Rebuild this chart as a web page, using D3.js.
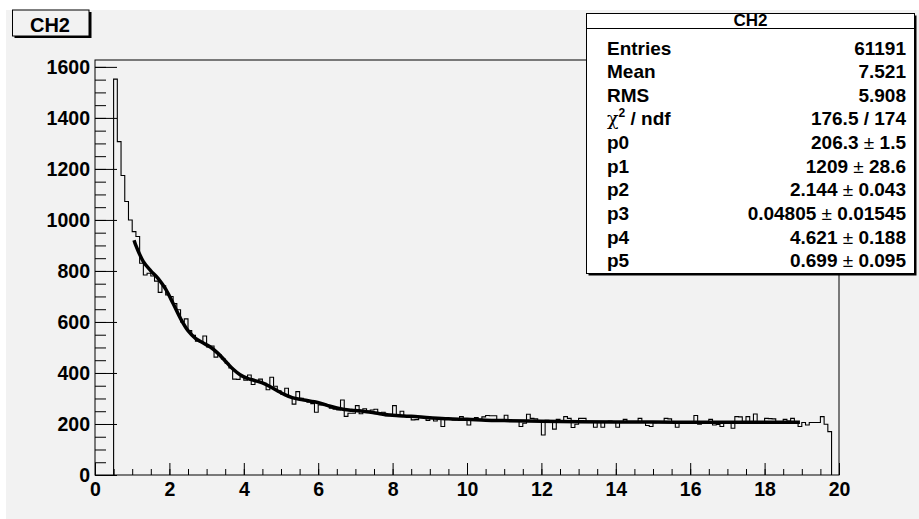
<!DOCTYPE html>
<html><head><meta charset="utf-8">
<script src="https://cdn.jsdelivr.net/npm/d3@7"></script>
<style>
body{margin:0;background:#fff}
svg{display:block}
text{font-family:"Liberation Sans",Arial,Helvetica,sans-serif;font-weight:bold;fill:#000}
</style>
</head><body>
<script>
// ---- data ----
const binStart = 0.5, binWidth = 0.1;
const counts = [
1552,1307,1174,1072,1000,954,935,830,784,791,
780,760,716,742,706,700,672,648,600,612,
566,548,525,522,545,502,506,462,470,455,
438,420,376,375,385,372,392,355,366,376,
360,334,383,348,330,316,340,305,278,327,
301,292,285,280,246,275,280,272,262,258,
255,294,230,242,242,272,240,260,250,255,
258,244,246,232,238,272,236,250,232,226,
216,217,228,228,214,224,212,222,190,220,
218,216,220,229,218,196,216,225,214,228,
233,232,232,214,212,234,216,212,210,190,
203,238,222,220,212,157,214,210,180,218,
212,229,222,186,199,222,222,210,208,187,
210,187,210,212,208,187,210,218,208,210,
206,222,208,194,190,205,208,210,222,220,
206,187,208,210,206,208,233,199,210,206,
218,196,198,190,208,206,183,229,228,208,
229,206,239,208,210,222,221,220,210,206,
218,212,222,208,190,206,196,206,206,206,
229,199,170];
const fitX = [1.05,1.1,1.3,1.5,1.7,1.9,2.1,2.3,2.5,2.7,2.9,3.1,3.3,3.5,3.7,3.9,4.1,4.3,4.5,4.7,4.9,5.1,5.3,5.5,5.7,5.9,6.1,6.3,6.5,6.7,6.9,7.1,7.3,7.5,7.7,7.9,8.1,8.3,8.5,9,9.5,10,10.5,11,12,13,14,15,16,17,18,18.95];
const fitY = [920.7,899.5,836.6,800.4,770.3,728.5,672.4,613.3,565.8,535.9,518.3,501.6,477.8,447.1,416.4,393.1,378.9,370.2,360.8,347.2,330.6,314.8,303.5,296.8,292.3,287.0,279.4,270.4,262.4,256.9,253.8,251.5,248.4,244.1,239.4,235.4,232.8,231.2,230.0,224.6,220.1,218.2,215.1,213.4,210.8,209.1,208.1,207.4,207.0,206.7,206.6,206.5];
const xTicks = [0,2,4,6,8,10,12,14,16,18,20];
const yTicks = [0,200,400,600,800,1000,1200,1400,1600];
const histTitle = "CH2";
const statLabels = ["Entries","Mean","RMS","chi2","p0","p1","p2","p3","p4","p5"];
const statValues = ["61191","7.521","5.908","176.5 / 174","206.3|1.5","1209|28.6","2.144|0.043","0.04805|0.01545","4.621|0.188","0.699|0.095"];

// ---- layout ----
const W = 919, H = 519;
const svg = d3.select("body").append("svg").attr("width", W).attr("height", H);
svg.append("rect").attr("width", W).attr("height", H).attr("fill", "#fff");
svg.append("rect").attr("x", 6).attr("y", 10).attr("width", W - 6).attr("height", H - 10).attr("fill", "#f2f2f2");

const x = d3.scaleLinear().domain([0, 20]).range([95, 839]);
const y = d3.scaleLinear().domain([0, 1627]).range([475, 60]);

// axes
const fs = 19.5;
const xMinor = svg.append("g").attr("transform", "translate(0,475)")
  .call(d3.axisBottom(x).tickValues(d3.range(0, 20.01, 0.5)).tickSize(-6).tickFormat(""));
const xMajor = svg.append("g").attr("transform", "translate(0,475)")
  .call(d3.axisBottom(x).tickValues(xTicks).tickSize(-12).tickPadding(7).tickFormat(d3.format("d")));
const yMinor = svg.append("g").attr("transform", "translate(95,0)")
  .call(d3.axisLeft(y).tickValues(d3.range(0, 1601, 50)).tickSize(-11).tickFormat(""));
const yMajor = svg.append("g").attr("transform", "translate(95,0)")
  .call(d3.axisLeft(y).tickValues(yTicks).tickSize(-22).tickPadding(5).tickFormat(d3.format("d")));
[xMinor, xMajor, yMinor, yMajor].forEach(g => {
  g.select(".domain").remove();
  g.selectAll("line").attr("stroke", "#000").attr("stroke-width", 1);
  g.selectAll("text").attr("font-size", fs).attr("font-family", "Liberation Sans, Arial, sans-serif").attr("font-weight", "bold").attr("fill", "#000");
});
xMajor.selectAll("text").attr("dy", "0.72em");

// histogram
const pts = [[binStart, 0]];
counts.forEach((c, i) => pts.push([binStart + i * binWidth, c]));
const xEnd = binStart + counts.length * binWidth;
pts.push([xEnd, counts[counts.length - 1]]);
pts.push([xEnd, 0]);
svg.append("path")
  .attr("d", d3.line().x(d => x(d[0])).y(d => y(d[1])).curve(d3.curveStepAfter)(pts))
  .attr("fill", "none").attr("stroke", "#000").attr("stroke-width", 1.1);

// fit curve
svg.append("path")
  .attr("d", d3.line().x((d, i) => x(fitX[i])).y(d => y(d)).curve(d3.curveCatmullRom)(fitY))
  .attr("fill", "none").attr("stroke", "#000").attr("stroke-width", 3.5).attr("stroke-linejoin", "round");

// frame
svg.append("rect").attr("x", 95).attr("y", 60).attr("width", 744).attr("height", 415)
  .attr("fill", "none").attr("stroke", "#000").attr("stroke-width", 1);

// title box
svg.append("rect").attr("x", 14.5).attr("y", 12).attr("width", 77).attr("height", 26).attr("fill", "#000");
svg.append("rect").attr("x", 12.5).attr("y", 10).attr("width", 76.5).attr("height", 26).attr("fill", "#f2f2f2").attr("stroke", "#000").attr("stroke-width", 1);
svg.append("text").attr("x", 50).attr("y", 31.5).attr("text-anchor", "middle").attr("font-size", 20).text(histTitle);

// stat box
const bx = 586.5, by = 13.5, bw = 328, bh = 260;
svg.append("rect").attr("x", bx + 2).attr("y", by + 2).attr("width", bw).attr("height", bh).attr("fill", "#000");
svg.append("rect").attr("x", bx).attr("y", by).attr("width", bw).attr("height", bh).attr("fill", "#fff").attr("stroke", "#000").attr("stroke-width", 1);
svg.append("line").attr("x1", bx).attr("x2", bx + bw).attr("y1", 28.5).attr("y2", 28.5).attr("stroke", "#000");
svg.append("text").attr("x", bx + bw / 2).attr("y", 26).attr("text-anchor", "middle").attr("font-size", 17).text(histTitle);

statLabels.forEach((lab, i) => {
  const yy = 54.5 + i * 23.65;
  const t = svg.append("text").attr("x", 607).attr("y", yy).attr("font-size", 19);
  if (lab === "chi2") {
    t.append("tspan").attr("font-weight", "normal").attr("font-family", "DejaVu Serif, serif").text("\u03C7");
    t.append("tspan").attr("font-size", 12).attr("dy", -8).text("2");
    t.append("tspan").attr("dy", 8).text(" / ndf");
  } else {
    t.text(lab);
  }
  const v = statValues[i];
  const tv = svg.append("text").attr("x", 906).attr("y", yy).attr("font-size", 19).attr("text-anchor", "end");
  if (v.includes("|")) {
    const [a, b] = v.split("|");
    tv.append("tspan").text(a + " ");
    tv.append("tspan").attr("font-weight", "normal").text("\u00B1");
    tv.append("tspan").text(" " + b);
  } else {
    tv.text(v);
  }
});
</script>
</body></html>
